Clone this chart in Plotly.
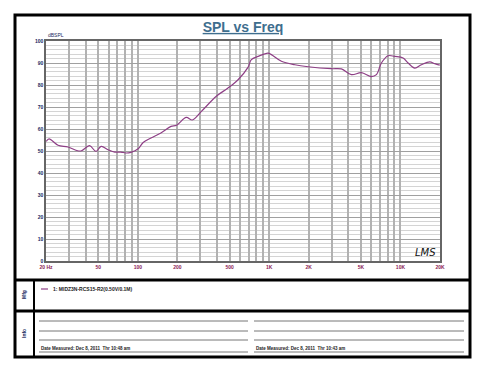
import plotly.graph_objects as go

freq_hz = [20.1, 21.1, 24.7, 29.4, 34.9, 37.2, 43.0, 48.0, 52.6, 59.4, 66.8, 74.5, 81.0, 88.7,
           100.6, 109.9, 126, 150, 179, 197, 234, 260, 305, 396, 486, 580, 690, 732, 824, 981,
           1040, 1240, 1570, 1980, 2980, 3550, 4230, 5040, 6000, 6560, 7160, 8050, 9050,
           10470, 11430, 12860, 14430, 16710, 18250, 19920]
spl_db = [54.4, 55.5, 52.6, 51.8, 50.1, 50.1, 52.4, 49.8, 52.1, 50.6, 49.5, 49.5, 49.1, 49.4,
          51.0, 53.9, 55.9, 58.2, 61.2, 61.7, 65.3, 64.1, 68.0, 74.9, 78.6, 82.4, 88.0, 91.5, 93.0, 94.5,
          93.8, 90.8, 89.2, 88.3, 87.4, 87.3, 84.7, 85.6, 83.8, 84.7, 90.0, 93.3, 93.0,
          92.3, 90.0, 87.7, 89.2, 90.5, 89.7, 89.0]

x_grid = [20, 30, 40, 50, 60, 70, 80, 90, 100, 200, 300, 400, 500, 600, 700, 800, 900,
          1000, 2000, 3000, 4000, 5000, 6000, 7000, 8000, 9000, 10000, 20000]
x_labels = {20: "20 Hz", 50: "50", 100: "100", 200: "200", 500: "500", 1000: "1K",
            2000: "2K", 5000: "5K", 10000: "10K", 20000: "20K"}
y_ticks = [0, 10, 20, 30, 40, 50, 60, 70, 80, 90, 100]

legend_text = "1: MIDZ3N-RCS15-R2(0.50V/0.1M)"
date_left = "Date Measured: Dec 8, 2011  Thr 10:48 am"
date_right = "Date Measured: Dec 8, 2011  Thr 10:43 am"

W, H = 480, 367
L, R, T, B = 38, 432, 33, 253


def px(x):
    return (x - L) / (R - L)


def py(y):
    return (B - y) / (B - T)


fig = go.Figure()
fig.add_trace(go.Scatter(x=freq_hz, y=spl_db, mode="lines", line=dict(color="#8E3F86", width=1.2),
                         line_shape="spline", showlegend=False, hoverinfo="skip"))

fig.update_layout(
    width=W, height=H, margin=dict(l=L, r=W - R, t=T, b=H - B),
    paper_bgcolor="white", plot_bgcolor="white",
    font=dict(family="Liberation Sans, Arial, sans-serif"),
    title=dict(text="<b><u>SPL vs Freq</u></b>", x=px(235), xref="paper", xanchor="center",
               y=1 - 19 / H, yanchor="middle", font=dict(size=14, color="#3E6E8E")),
)
fig.update_xaxes(type="log", range=[1.30103, 4.30103], tickvals=x_grid,
                 ticktext=["<b>" + x_labels[v] + "</b>" if v in x_labels else "" for v in x_grid],
                 tickfont=dict(size=5, color="#8B1A55"), ticks="", showgrid=True,
                 gridcolor="#B2B2B2", gridwidth=1.6, showline=True, linecolor="#666666",
                 linewidth=1.5, mirror=True, zeroline=False, tickangle=0)
fig.update_yaxes(range=[0, 100], tickvals=y_ticks, ticktext=["<b>" + str(v) + "</b>" for v in y_ticks],
                 tickfont=dict(size=5, color="#1A2A60"), ticks="", showgrid=True,
                 gridcolor="#A0A0A0", gridwidth=1.2, showline=True, linecolor="#666666",
                 linewidth=1.5, mirror=True, zeroline=False,
                 minor=dict(dtick=2, showgrid=True, gridcolor="#D4D4D4", gridwidth=1))

shapes = []


def line(x0, y0, x1, y1, color="black", width=1):
    shapes.append(dict(type="line", xref="paper", yref="paper", x0=px(x0), y0=py(y0),
                       x1=px(x1), y1=py(y1), line=dict(color=color, width=width)))


# outer frame
shapes.append(dict(type="rect", xref="paper", yref="paper", x0=px(7), y0=py(7), x1=px(462), y1=py(349),
                   line=dict(color="black", width=3)))
line(7, 272, 462, 272, width=3)
line(7, 303, 462, 303, width=3)
line(26, 272, 26, 349, width=2)
# info lines
for yy in (313, 323, 332):
    line(31, yy, 240, yy, color="#777777", width=1)
    line(246, yy, 456, yy, color="#777777", width=1)
line(31, 344, 240, 344, color="#555555", width=0.8)
line(246, 344, 456, 344, color="#555555", width=0.8)
# legend swatch
line(33, 281, 40, 281, color="#8E3F86", width=1.2)
fig.update_layout(shapes=shapes)

ann = []


def text(x, y, s, size=5, color="black", xanchor="left", angle=0, bold=False, italic=False, family=None):
    t = s
    if bold:
        t = "<b>" + t + "</b>"
    if italic:
        t = "<i>" + t + "</i>"
    d = dict(x=px(x), y=py(y), xref="paper", yref="paper", text=t, showarrow=False,
             xanchor=xanchor, yanchor="middle", textangle=angle, font=dict(size=size, color=color))
    if family:
        d["font"]["family"] = family
    ann.append(d)


text(38, 27, "dBSPL", size=5, color="#1A2A60")
text(43, 281, legend_text, size=5, color="#222222", bold=True)
text(16, 287, "Mfg", size=5, color="#1A2A60", xanchor="center", angle=-90, bold=True)
text(16, 326, "Info", size=5, color="#1A2A60", xanchor="center", angle=-90, bold=True)
text(31, 340, date_left, size=4.5, color="#222222", bold=True)
text(246, 340, date_right, size=4.5, color="#222222", bold=True)
text(417, 244, "LMS", size=10, color="#111111", xanchor="center", italic=True,
     family="DejaVu Sans, sans-serif")
fig.update_layout(annotations=ann)

fig.write_html("out.html")
